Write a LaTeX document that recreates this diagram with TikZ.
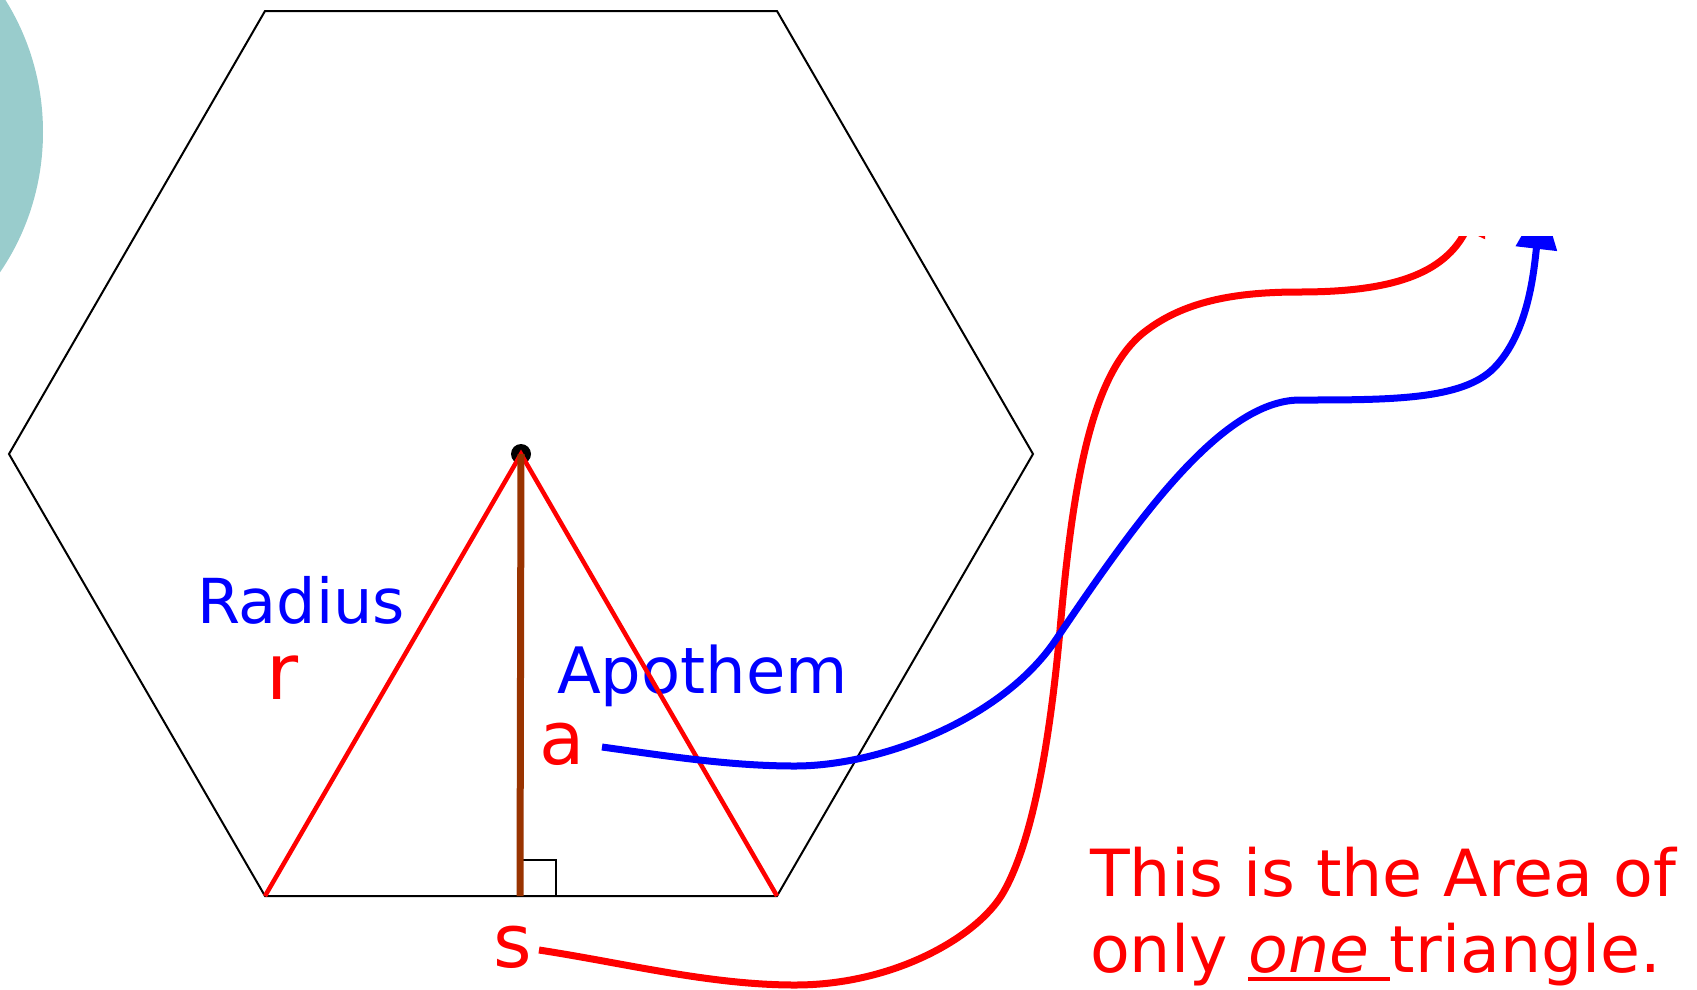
\documentclass[tikz,border=0pt]{standalone}
\usepackage{fontspec}
\setmainfont{DejaVu Sans}
\usetikzlibrary{arrows.meta}
\definecolor{tealc}{RGB}{153,204,204}
\definecolor{brownc}{RGB}{153,51,0}
\definecolor{redc}{RGB}{255,0,0}
\definecolor{bluec}{RGB}{0,0,255}
\newcommand\myul[1]{\setbox0\hbox{#1}\rlap{\rule[-9pt]{\wd0}{4pt}}\box0}
\tikzset{
  hexline/.style={draw=black, line width=2pt, line join=miter},
  radline/.style={draw=redc, line width=4.5pt},
  apoline/.style={draw=brownc, line width=7pt},
  bluetxt/.style={text=bluec, inner sep=0pt, anchor=base west},
  redtxt/.style={text=redc, inner sep=0pt, anchor=base west},
  redcurve/.style={draw=redc, line width=7pt, -{Triangle[length=49pt,width=40pt]}},
  bluecurve/.style={draw=bluec, line width=7pt, -{Triangle[length=49pt,width=40pt]}}
}
\begin{document}
\begin{tikzpicture}[x=1pt,y=-1pt]
\useasboundingbox (0,0) rectangle (1697,989);
% decorative teal disc
\fill[tealc] (-185,132) ellipse [x radius=228, y radius=240];
% hexagon
\coordinate (v1) at (265,11);
\coordinate (v2) at (777,11);
\coordinate (v3) at (1033,454);
\coordinate (v4) at (777,896);
\coordinate (v5) at (265,896);
\coordinate (v6) at (9,454);
\coordinate (O) at (521,454);
\coordinate (F) at (520,896);
\draw[hexline] (v1) -- (v2) -- (v3) -- (v4) -- (v5) -- (v6) -- cycle;
% right angle mark
\coordinate (sq1) at (521,860);
\coordinate (sq2) at (556,897);
\draw[line width=2pt] (sq1) -- (sq2 |- sq1) -- (sq2);
% labels
\node[bluetxt, font=\fontsize{62}{62}\selectfont] (rad) at (197,623) {Radius};
\node[redtxt, font=\fontsize{78}{78}\selectfont] (lr) at (266,699) {r};
\node[bluetxt, font=\fontsize{64}{64}\selectfont] (apo) at (557,693) {Apothem};
\node[redtxt, font=\fontsize{74}{74}\selectfont] (la) at (539,764) {a};
\node[redtxt, font=\fontsize{74}{74}\selectfont] (ls) at (493,967) {s};
\node[redtxt, font=\fontsize{65}{76}\selectfont] (t1) at (1090,896) {This is the Area of};
\node[redtxt, font=\fontsize{65}{76}\selectfont] (t2) at (1090,972) {only \myul{\itshape one }triangle.};
% center dot, triangle, apothem
\fill[black] (O) circle (10);
\draw[radline] (v5) -- (O) -- (v4);
\draw[apoline] (O) -- (F);
% connectors
\coordinate (rS) at (539,950);
\coordinate (rE) at (1487,186);
\coordinate (bA) at (602,747);
\coordinate (bE) at (1542,200);
\begin{scope}
\clip (0,236) rectangle (1697,989);
\draw[redcurve] (rS) .. controls (624,963) and (710,985) .. (795,985)
  .. controls (895,985) and (978,936) .. (1003,893)
  .. controls (1033,841) and (1050,740) .. (1060,630)
  .. controls (1073,480) and (1092,370) .. (1147,330)
  .. controls (1187,300) and (1239,292) .. (1299,292)
  .. controls (1390,292) and (1445,275) .. (rE);
\draw[bluecurve] (bA) .. controls (667,756) and (730,766) .. (795,766)
  .. controls (880,766) and (1001,720) .. (1055,641)
  .. controls (1133,526) and (1220,400) .. (1300,400)
  .. controls (1390,400) and (1462.5,400) .. (1494,368)
  .. controls (1529,332.5) and (1534,269) .. (bE);
\end{scope}
\end{tikzpicture}
\end{document}
